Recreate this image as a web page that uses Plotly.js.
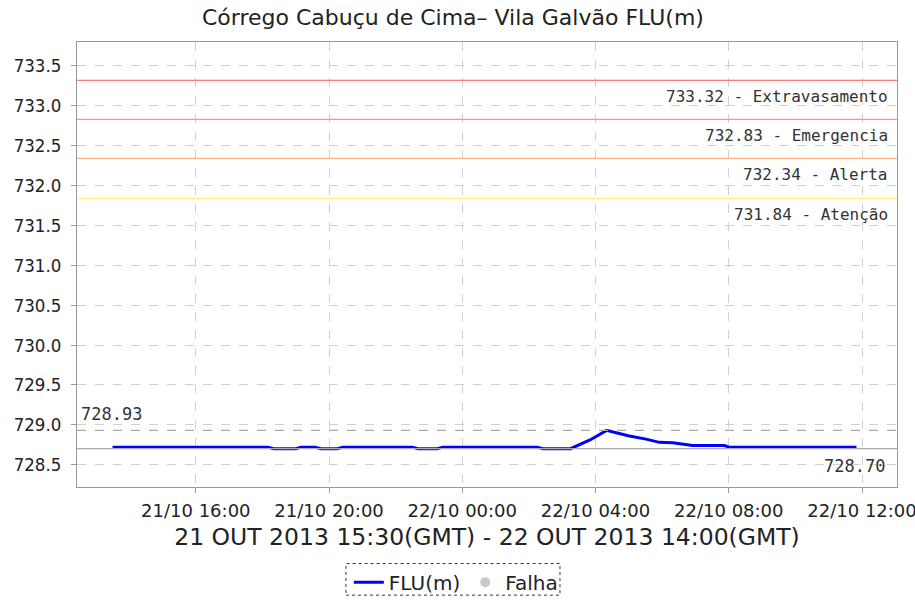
<!DOCTYPE html>
<html><head><meta charset="utf-8">
<script src="https://cdn.plot.ly/plotly-3.0.1.min.js"></script>
<style>body{margin:0;background:#fff}#c{width:915px;height:614px}</style>
</head><body><div id="c"></div>
<script>
var times = ["2013-10-21 13:30","2013-10-21 18:10","2013-10-21 18:20","2013-10-21 19:00","2013-10-21 19:10","2013-10-21 19:35","2013-10-21 19:45","2013-10-21 20:15","2013-10-21 20:25","2013-10-21 22:30","2013-10-21 22:40","2013-10-21 23:15","2013-10-21 23:25","2013-10-22 02:15","2013-10-22 02:25","2013-10-22 03:15","2013-10-22 03:50","2013-10-22 04:20","2013-10-22 04:37","2013-10-22 05:01","2013-10-22 05:31","2013-10-22 05:55","2013-10-22 06:19","2013-10-22 06:43","2013-10-22 06:55","2013-10-22 07:52","2013-10-22 08:01","2013-10-22 11:50"];
var levels = [728.72,728.72,728.70,728.70,728.72,728.72,728.70,728.70,728.72,728.72,728.70,728.70,728.72,728.72,728.70,728.70,728.81,728.93,728.90,728.86,728.82,728.78,728.775,728.755,728.74,728.74,728.72,728.72];
var thresholds = [733.32, 732.83, 732.34, 731.84];
var thresholdNames = ["Extravasamento","Emergencia","Alerta","Atenção"];
var thresholdColors = ["#ff7a7a","#ff78ff","#ffb27a","#ffeb80"];
var maxValue = 728.93, minValue = 728.70;
var yTicks = [728.5,729.0,729.5,730.0,730.5,731.0,731.5,732.0,732.5,733.0,733.5];

var shapes = [], annotations = [];
thresholds.forEach(function(v,i){
  shapes.push({type:'line',xref:'paper',x0:0,x1:1,yref:'y',y0:v,y1:v,line:{color:thresholdColors[i],width:1.2}});
  annotations.push({xref:'paper',x:0.992,xanchor:'right',yref:'y',y:v,yanchor:'top',yshift:-5,showarrow:false,
    text:v.toFixed(2)+' - '+thresholdNames[i],font:{family:'DejaVu Sans Mono',size:16,color:'#333'}});
});
shapes.push({type:'line',xref:'paper',x0:0,x1:1,yref:'y',y0:maxValue,y1:maxValue,line:{color:'#aaaaaa',width:1.2,dash:'dash'}});
shapes.push({type:'line',xref:'paper',x0:0,x1:1,yref:'y',y0:minValue,y1:minValue,line:{color:'#aaaaaa',width:1.2}});
annotations.push({xref:'paper',x:0.003,xanchor:'left',yref:'y',y:maxValue,yanchor:'bottom',yshift:4,showarrow:false,
  text:maxValue.toFixed(2),font:{family:'DejaVu Sans Mono',size:17,color:'#333'}});
annotations.push({xref:'paper',x:0.988,xanchor:'right',yref:'y',y:minValue,yanchor:'top',yshift:-5,showarrow:false,
  text:minValue.toFixed(2),font:{family:'DejaVu Sans Mono',size:17,color:'#333'}});
// dashed legend frame
shapes.push({type:'rect',xref:'paper',yref:'paper',x0:0.328,x1:0.589,y0:-0.243,y1:-0.172,line:{color:'#333',width:1,dash:'dot'}});

var data = [
  {x:times,y:levels,type:'scatter',mode:'lines',name:'FLU(m)',line:{color:'#0000ff',width:3}},
  {x:[null],y:[null],type:'scatter',mode:'markers',name:'Falha',marker:{color:'#c8c8c8',size:10}}
];
var layout = {
  width:915,height:614,
  margin:{l:77,r:18,t:42,b:119},
  paper_bgcolor:'#fff',plot_bgcolor:'#fff',
  font:{family:'DejaVu Sans',color:'#222'},
  title:{text:'Córrego Cabuçu de Cima– Vila Galvão FLU(m)',x:0.495,xanchor:'center',y:0.972,yanchor:'middle',font:{family:'DejaVu Sans',size:22,color:'#222'}},
  xaxis:{type:'date',range:['2013-10-21 12:26','2013-10-22 13:03'],tick0:'2013-10-21 00:00',dtick:4*3600000,tickformat:'%d/%m %H:%M',
    showgrid:true,gridcolor:'#d0d0d0',griddash:'dash',gridwidth:1,zeroline:false,ticklabeloverflow:'allow',
    showline:true,linecolor:'#999',mirror:true,ticks:'outside',ticklen:5,tickcolor:'#999',ticklabelstandoff:2,
    tickfont:{family:'DejaVu Sans',size:18,color:'#222'},
    title:{text:'21 OUT 2013 15:30(GMT) - 22 OUT 2013 14:00(GMT)',standoff:8,font:{family:'DejaVu Sans',size:23.5,color:'#222'}}},
  yaxis:{range:[728.22,733.8],tickvals:yTicks,tickformat:'.1f',
    showgrid:true,gridcolor:'#d0d0d0',griddash:'dash',gridwidth:1,zeroline:false,
    showline:true,linecolor:'#999',mirror:true,ticks:'outside',ticklen:5,tickcolor:'#999',ticklabelstandoff:6,
    tickfont:{family:'DejaVu Sans Condensed',size:18.5,color:'#222'}},
  showlegend:true,
  legend:{orientation:'h',x:0.462,xanchor:'center',y:-0.17,yanchor:'top',bgcolor:'rgba(0,0,0,0)',borderwidth:0,
    font:{family:'DejaVu Sans',size:20,color:'#222'},itemwidth:30},
  shapes:shapes,annotations:annotations
};
Plotly.newPlot('c',data,layout,{displayModeBar:false,staticPlot:true});
</script></body></html>
